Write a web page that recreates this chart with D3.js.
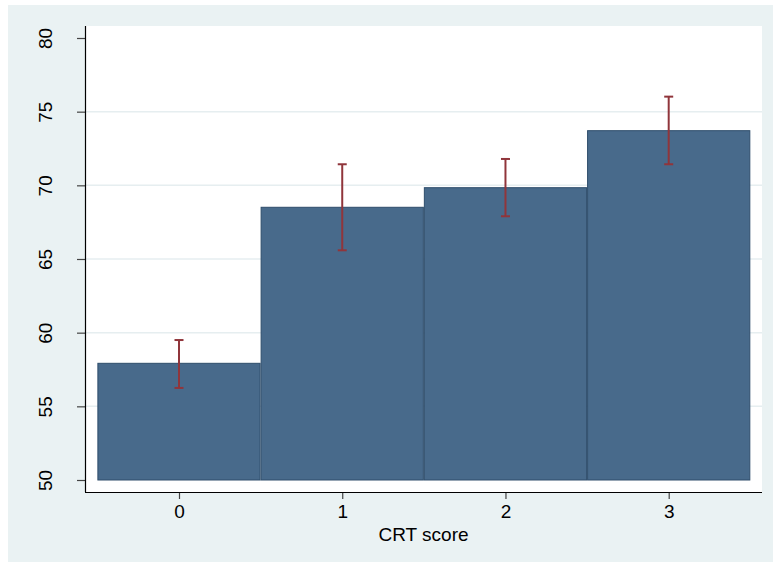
<!DOCTYPE html>
<html>
<head>
<meta charset="utf-8">
<script src="https://cdn.jsdelivr.net/npm/d3@7"></script>
<style>
  html, body { margin: 0; padding: 0; background: #ffffff; }
  svg { display: block; }
  text { font-family: "Liberation Sans", Arial, sans-serif; }
</style>
</head>
<body>
<svg id="chart" width="773" height="562"></svg>
<script>
// CRT score groups and mean outcome with confidence interval bounds
const categories = [0, 1, 2, 3];
const means = [57.92, 68.51, 69.84, 73.71];
const ciLow = [56.25, 65.59, 67.90, 71.43];
const ciHigh = [59.50, 71.43, 71.79, 76.02];
const yTicks = [50, 55, 60, 65, 70, 75, 80];
const gridTicks = [55, 60, 65, 70, 75];
const xLabel = "CRT score";

const svg = d3.select("#chart");
const W = 773, H = 562;
const fontSize = 19;

// graph region background
svg.append("rect")
  .attr("x", 8).attr("y", 5).attr("width", W - 8).attr("height", H - 5)
  .attr("fill", "#eaf2f3");

// plot region
const plot = { left: 85, right: 762, top: 26, bottom: 492 };
svg.append("rect")
  .attr("x", plot.left).attr("y", plot.top)
  .attr("width", plot.right - plot.left).attr("height", plot.bottom - plot.top)
  .attr("fill", "#ffffff");

const y = d3.scaleLinear().domain([50, 80]).range([480, 38]);
const x = d3.scaleLinear().domain([0, 3]).range([179, 668.7]);
const halfW = (x(1) - x(0)) / 2;

// horizontal gridlines
svg.append("g").selectAll("line").data(gridTicks).join("line")
  .attr("x1", plot.left).attr("x2", plot.right)
  .attr("y1", d => y(d)).attr("y2", d => y(d))
  .attr("stroke", "#e6eef0").attr("stroke-width", 1.5);

// bars
svg.append("g").selectAll("rect").data(categories).join("rect")
  .attr("x", (d) => x(d) - halfW + 0.5)
  .attr("width", halfW * 2 - 1)
  .attr("y", (d, i) => y(means[i]))
  .attr("height", (d, i) => y(50) - y(means[i]))
  .attr("fill", "#486a8b")
  .attr("stroke", "#2e4d6b").attr("stroke-width", 1);

// confidence interval caps
const err = svg.append("g").attr("stroke", "#90353b").attr("stroke-width", 2).attr("fill", "none");
categories.forEach((d, i) => {
  const cx = x(d);
  err.append("line").attr("x1", cx).attr("x2", cx).attr("y1", y(ciLow[i])).attr("y2", y(ciHigh[i]));
  err.append("line").attr("x1", cx - 4.5).attr("x2", cx + 4.5).attr("y1", y(ciLow[i])).attr("y2", y(ciLow[i]));
  err.append("line").attr("x1", cx - 4.5).attr("x2", cx + 4.5).attr("y1", y(ciHigh[i])).attr("y2", y(ciHigh[i]));
});

// y axis
const yAxis = d3.axisLeft(y).tickValues(yTicks).tickSize(8).tickPadding(0).tickFormat(d3.format("d"));
const gy = svg.append("g").attr("transform", `translate(${plot.left},0)`).call(yAxis);
gy.select(".domain").remove();
gy.selectAll(".tick line").attr("stroke", "#444").attr("stroke-width", 1.2);
gy.selectAll(".tick text")
  .attr("x", 0).attr("y", 0).attr("dy", null)
  .attr("text-anchor", "middle")
  .attr("transform", "translate(-39.5,0) rotate(-90)")
  .attr("dominant-baseline", "central")
  .attr("font-size", fontSize).attr("fill", "#000");
svg.append("line")
  .attr("x1", plot.left + 0.5).attr("x2", plot.left + 0.5)
  .attr("y1", plot.top).attr("y2", plot.bottom)
  .attr("stroke", "#000").attr("stroke-width", 1.2);

// x axis
const xAxis = d3.axisBottom(x).tickValues(categories).tickSize(7).tickPadding(6).tickFormat(d3.format("d"));
const gx = svg.append("g").attr("transform", `translate(0,${plot.bottom})`).call(xAxis);
gx.select(".domain").remove();
gx.selectAll(".tick line").attr("stroke", "#444").attr("stroke-width", 1.2);
gx.selectAll(".tick text").attr("font-size", fontSize).attr("fill", "#000");
svg.append("line")
  .attr("x1", plot.left).attr("x2", plot.right)
  .attr("y1", plot.bottom + 0.5).attr("y2", plot.bottom + 0.5)
  .attr("stroke", "#000").attr("stroke-width", 1.2);

svg.append("text")
  .attr("x", (plot.left + plot.right) / 2).attr("y", 541)
  .attr("text-anchor", "middle").attr("font-size", fontSize).attr("fill", "#000")
  .text(xLabel);
</script>
</body>
</html>
